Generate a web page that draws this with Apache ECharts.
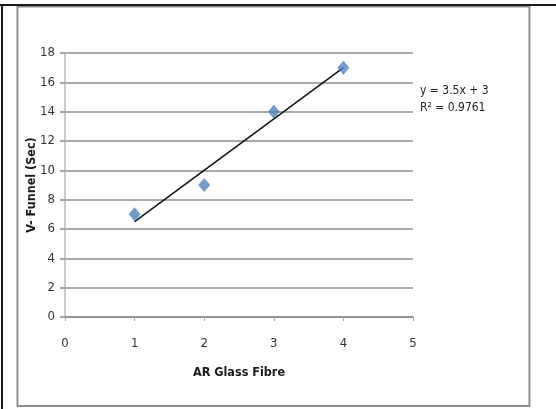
<!DOCTYPE html>
<html><head><meta charset="utf-8">
<script src="https://cdn.jsdelivr.net/npm/echarts@6/dist/echarts.min.js"></script>
<style>html,body{margin:0;padding:0;background:#fff}#c{width:556px;height:409px}</style>
</head><body><div id="c"></div>
<script>
const xValues = [1, 2, 3, 4];
const yValues = [7, 9, 14, 17];
const trendX = [1, 4];
const trendY = [6.5, 17];
const equationLines = ['y = 3.5x + 3', 'R² = 0.9761'];
const xTitle = 'AR Glass Fibre';
const yTitle = 'V- Funnel (Sec)';
const FONT = '"Liberation Sans Narrow", "Arial Narrow", "DejaVu Sans Condensed", sans-serif';

const chart = echarts.init(document.getElementById('c'), null, {renderer: 'canvas'});
const labelStyle = {color: '#333', fontFamily: FONT, fontSize: 13};
chart.setOption({
  animation: false,
  backgroundColor: '#fff',
  grid: {left: 65, right: 143, top: 53, bottom: 92},
  xAxis: {
    type: 'value', min: 0, max: 5, interval: 1,
    name: xTitle, nameLocation: 'middle', nameGap: 49, nameMoveOverlap: false,
    nameTextStyle: {fontFamily: FONT, fontWeight: 'bold', fontSize: 12.5, color: '#1a1a1a'},
    axisLine: {lineStyle: {color: '#8c8c8c', width: 1.5}},
    axisTick: {show: true, length: 4, lineStyle: {color: '#aaa'}},
    axisLabel: Object.assign({margin: 20}, labelStyle),
    splitLine: {show: false}
  },
  yAxis: {
    type: 'value', min: 0, max: 18, interval: 2,
    name: yTitle, nameLocation: 'middle', nameGap: 27, nameRotate: 90, nameMoveOverlap: false,
    nameTextStyle: {fontFamily: FONT, fontWeight: 'bold', fontSize: 12.5, color: '#1a1a1a'},
    axisLine: {show: true, lineStyle: {color: '#bbb', width: 1.5}},
    axisTick: {show: true, length: 5, lineStyle: {color: '#8c8c8c', width: 1.5}},
    axisLabel: Object.assign({margin: 10}, labelStyle),
    splitLine: {show: true, lineStyle: {color: '#8c8c8c', width: 1.5}}
  },
  series: [
    {
      type: 'line', data: trendX.map((x, i) => [x, trendY[i]]),
      showSymbol: false, symbol: 'none', lineStyle: {color: '#111', width: 1.5}, z: 3
    },
    {
      type: 'scatter', data: xValues.map((x, i) => [x, yValues[i]]),
      symbol: 'diamond', symbolSize: [12, 14],
      itemStyle: {color: '#4f81bd'}, z: 4
    }
  ],
  graphic: [
    {type: 'rect', shape: {x: 17.5, y: 6.5, width: 512, height: 399.5},
     style: {fill: 'none', stroke: '#8c8c8c', lineWidth: 2}, z: 0},
    {type: 'line', shape: {x1: 0, y1: 5, x2: 556, y2: 5}, style: {stroke: '#1a1a1a', lineWidth: 2}},
    {type: 'line', shape: {x1: 2, y1: 5, x2: 2, y2: 409}, style: {stroke: '#1a1a1a', lineWidth: 2}},
    {type: 'text', left: 420, top: 82, style: {text: equationLines.join('\n'), font: '12px ' + FONT, fill: '#222', lineHeight: 17}}
  ]
});
</script></body></html>
